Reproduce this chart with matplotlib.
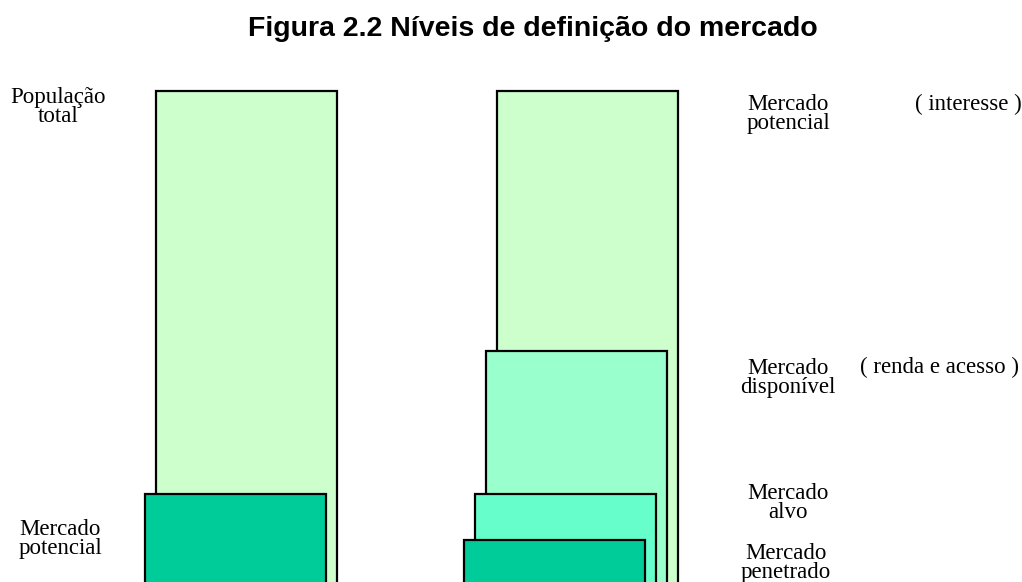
import matplotlib.pyplot as plt
from matplotlib.patches import Rectangle

# market levels (heights, pixel units)
left_levels = ['População\ntotal', 'Mercado\npotencial']
left_heights = [491, 88]
left_colors = ['#CCFFCC', '#00CC99']

right_levels = ['Mercado\npotencial', 'Mercado\ndisponível', 'Mercado\nalvo', 'Mercado\npenetrado']
right_heights = [491, 231, 88, 42]
right_colors = ['#CCFFCC', '#99FFCC', '#66FFCC', '#00CC99']
right_notes = ['( interesse )', '( renda e acesso )']

fig = plt.figure(figsize=(10.22, 5.82), dpi=100)
ax = fig.add_axes([0, 0, 1, 1])
ax.set_xlim(0, 1022)
ax.set_ylim(582, 0)
ax.axis('off')

bar_w = 181
step = 11

# left stack
for i, (h, c) in enumerate(zip(left_heights, left_colors)):
    x0 = 156 - i * step
    ax.add_patch(Rectangle((x0, 582 - h), bar_w, h + 10, facecolor=c,
                           edgecolor='black', linewidth=1.6))

# right stack
for i, (h, c) in enumerate(zip(right_heights, right_colors)):
    x0 = 497 - i * step
    ax.add_patch(Rectangle((x0, 582 - h), bar_w, h + 10, facecolor=c,
                           edgecolor='black', linewidth=1.6))

serif = 'Liberation Serif'
fs = 16.5
ls = 0.9

left_pos = [(58, 107), (60, 539)]
for t, (x, y) in zip(left_levels, left_pos):
    ax.text(x, y, t, ha='center', va='center', family=serif,
            fontsize=fs, linespacing=ls)

right_pos = [(788, 114), (788, 378), (788, 503), (786, 563)]
for t, (x, y) in zip(right_levels, right_pos):
    ax.text(x, y, t, ha='center', va='center', family=serif,
            fontsize=fs, linespacing=ls)

note_pos = [(968, 104), (940, 367)]
for t, (x, y) in zip(right_notes, note_pos):
    ax.text(x, y, t, ha='center', va='center', family=serif, fontsize=fs)

ax.text(533, 29, 'Figura 2.2 Níveis de definição do mercado',
        ha='center', va='center', family='Liberation Sans',
        fontweight='bold', fontsize=20.5)

fig.savefig('out.png', dpi=100)
